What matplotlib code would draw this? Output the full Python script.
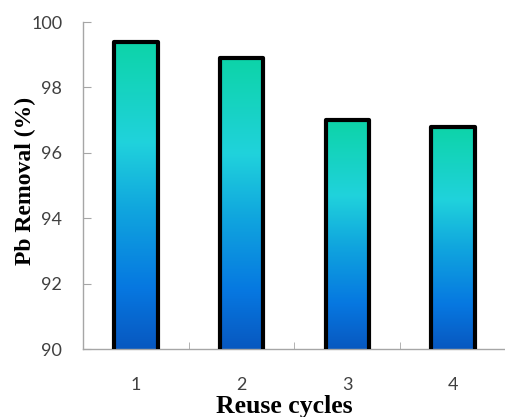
import numpy as np
import matplotlib.pyplot as plt
from matplotlib.colors import LinearSegmentedColormap

cycles = ["1", "2", "3", "4"]
removal = [99.4, 98.9, 97.0, 96.8]
y_ticks = [90, 92, 94, 96, 98, 100]

# vertical gradient used inside every bar (bottom -> top)
grad = LinearSegmentedColormap.from_list(
    "bar_grad",
    [(0.0, "#0858c0"), (0.2, "#0678e1"), (0.45, "#10a5de"),
     (0.67, "#20d2dc"), (1.0, "#0dd4a8")])

fig = plt.figure(figsize=(5.06, 4.17), dpi=100)
ax = fig.add_axes([0.164, 0.163, 0.836, 0.784])

x = np.arange(1, len(cycles) + 1)
width = 0.41
bars = ax.bar(x, removal, width=width, facecolor="none", edgecolor="black",
              linewidth=3.0, joinstyle="round", zorder=3)

ramp = np.linspace(0, 1, 256).reshape(-1, 1)
for rect, xi, val in zip(bars, x, removal):
    im = ax.imshow(ramp, cmap=grad, origin="lower", aspect="auto",
                   extent=[xi - width / 2, xi + width / 2, 90, val], zorder=2)
    im.set_clip_path(rect)

ax.set_xlim(0.5, 4.5)
ax.set_ylim(90, 100)
ax.set_xticks(x)
ax.set_xticklabels(cycles)
ax.set_xticks([1.5, 2.5, 3.5], minor=True)
ax.set_yticks(y_ticks)

for s in ["top", "right"]:
    ax.spines[s].set_visible(False)
for s in ["left", "bottom"]:
    ax.spines[s].set_color("#a6a6a6")
    ax.spines[s].set_linewidth(1.0)

ax.tick_params(axis="x", which="major", length=0, pad=20, labelsize=13,
               labelcolor="#404040")
ax.tick_params(axis="x", which="minor", direction="in", length=5,
               color="#a6a6a6")
ax.tick_params(axis="y", direction="in", length=6, color="#a6a6a6", pad=15,
               labelsize=13, labelcolor="#404040")
for lab in ax.get_xticklabels() + ax.get_yticklabels():
    lab.set_fontfamily("Lato")

fig.text(284 / 506, 4 / 417, "Reuse cycles", ha="center", va="baseline",
         fontsize=18.5, fontweight="bold", family="Liberation Serif")
fig.text(25 / 506, (417 - 181) / 417, "Pb Removal (%)", ha="center",
         va="center", rotation=90, fontsize=17, fontweight="bold",
         family="Liberation Serif")

fig.savefig("out.png", dpi=100)
